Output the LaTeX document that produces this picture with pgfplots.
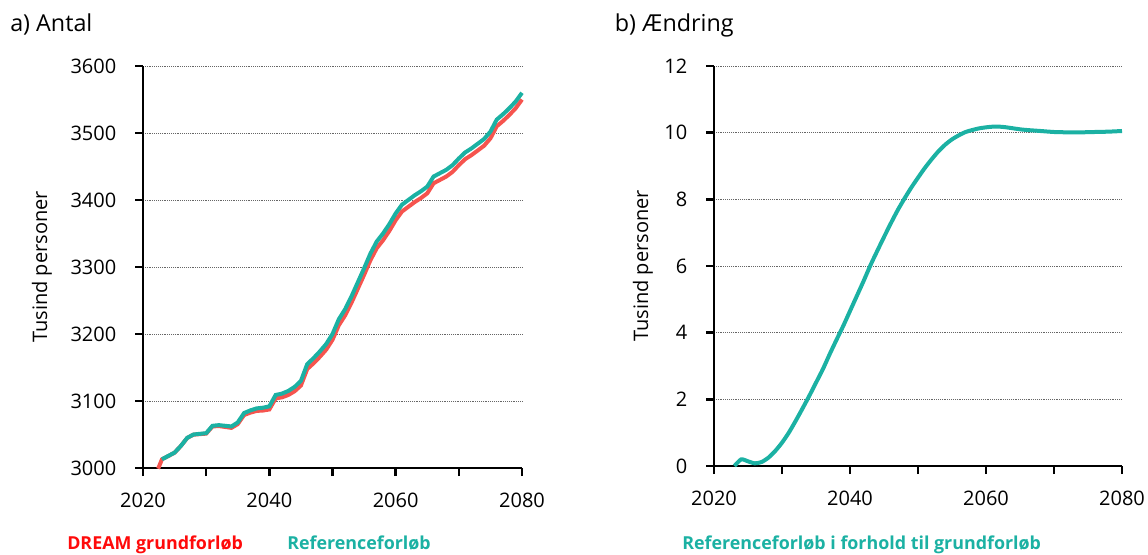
\documentclass[border=0pt]{standalone}
\usepackage{pgfplots}
\pgfplotsset{compat=1.18}
\usepackage{fontspec}
\setmainfont{Open Sans}
\definecolor{teal1}{RGB}{27,177,163}
\definecolor{red1}{RGB}{246,84,78}
\definecolor{redtxt}{RGB}{255,10,10}
\pgfplotsset{
  mystyle/.style={
    scale only axis,
    axis x line=bottom, axis y line=left,
    axis line style={-, line width=1.8pt, black},
    tick style={line width=1.8pt, black},
    tick align=outside, major tick length=6pt,
    xmin=2020, xmax=2080,
    xtick={2020,2030,...,2080},
    xticklabels={2020,,2040,,2060,,2080},
    ymajorgrids,
    grid style={densely dotted, line width=0.7pt, gray!80!black},
    /pgf/number format/assume math mode=true,
    ticklabel style={font=\fontsize{15}{18}\selectfont},
    xticklabel style={yshift=-9pt},
    yticklabel style={xshift=-10.5pt},
    label style={font=\fontsize{15}{18}\selectfont},
    clip=false,
  }
}
\begin{document}
\begin{tikzpicture}
\useasboundingbox (0,0) rectangle (861pt,415.5pt);
\begin{axis}[mystyle,
  at={(107.25pt,64.5pt)}, anchor=south west,
  width=284.25pt, height=301.5pt,
  ymin=3000, ymax=3600, ytick={3000,3100,...,3600},
  yticklabel style={/pgf/number format/.cd, fixed, 1000 sep={}},
  ylabel={Tusind personer},
  ylabel style={at={(axis description cs:0,0.5)}, anchor=center, yshift=75.75pt},
]
\addplot[red1, line width=3pt] coordinates {
(2022.4,2999) (2023,3013) (2024,3017.8) (2025,3022.86) (2026,3032.92) (2027,3044.88) (2028,3049.75) (2029,3050.55) (2030,3051.3)
(2031,3062) (2032,3062.65) (2033,3061.28) (2034,3059.9) (2035,3065.5) (2036,3079.1) (2037,3082.65) (2038,3085.22) (2039,3085.8) (2040,3087.35)
(2041,3103.9) (2042,3105.45) (2043,3108.98) (2044,3114.55) (2045,3123.12) (2046,3147.7) (2047,3156.3) (2048,3166) (2049,3176.65) (2050,3191.35)
(2051,3213.05) (2052,3227.8) (2053,3246.55) (2054,3267.35) (2055,3288.2) (2056,3310.08) (2057,3327.98) (2058,3339.92) (2059,3353.87) (2060,3369.84)
(2061,3382.82) (2062,3389.82) (2063,3396.84) (2064,3402.87) (2065,3409.9) (2066,3424.92) (2067,3429.93) (2068,3434.95) (2069,3441.96) (2070,3451.98)
(2071,3460.98) (2072,3466.99) (2073,3473.99) (2074,3480.99) (2075,3491.98) (2076,3509.98) (2077,3517.98) (2078,3526.97) (2079,3536.96) (2080,3549.95)
};
\addplot[teal1, line width=3pt] coordinates {
(2023,3013) (2024,3018) (2025,3023) (2026,3033) (2027,3045) (2028,3050) (2029,3051) (2030,3052)
(2031,3063) (2032,3064) (2033,3063) (2034,3062) (2035,3068) (2036,3082) (2037,3086) (2038,3089) (2039,3090) (2040,3092)
(2041,3109) (2042,3111) (2043,3115) (2044,3121) (2045,3130) (2046,3155) (2047,3164) (2048,3174) (2049,3185) (2050,3200)
(2051,3222) (2052,3237) (2053,3256) (2054,3277) (2055,3298) (2056,3320) (2057,3338) (2058,3350) (2059,3364) (2060,3380)
(2061,3393) (2062,3400) (2063,3407) (2064,3413) (2065,3420) (2066,3435) (2067,3440) (2068,3445) (2069,3452) (2070,3462)
(2071,3471) (2072,3477) (2073,3484) (2074,3491) (2075,3502) (2076,3520) (2077,3528) (2078,3537) (2079,3547) (2080,3560)
};
\end{axis}
\begin{axis}[mystyle,
  at={(535.5pt,66pt)}, anchor=south west,
  width=306pt, height=300pt,
  ymin=0, ymax=12, ytick={0,2,...,12},
  ylabel={Tusind personer},
  ylabel style={at={(axis description cs:0,0.5)}, anchor=center, yshift=53.25pt},
]
\addplot[teal1, line width=3pt, smooth, tension=0.4] coordinates {
(2023,0) (2024,0.2) (2025,0.14) (2026,0.08) (2027,0.12) (2028,0.25) (2029,0.45) (2030,0.7)
(2031,1.0) (2032,1.35) (2033,1.72) (2034,2.1) (2035,2.5) (2036,2.9) (2037,3.35) (2038,3.78) (2039,4.2) (2040,4.65)
(2041,5.1) (2042,5.55) (2043,6.02) (2044,6.45) (2045,6.87) (2046,7.28) (2047,7.67) (2048,8.02) (2049,8.35) (2050,8.65)
(2051,8.94) (2052,9.2) (2053,9.44) (2054,9.64) (2055,9.8) (2056,9.92) (2057,10.02) (2058,10.08) (2059,10.13) (2060,10.16)
(2061,10.18) (2062,10.18) (2063,10.16) (2064,10.13) (2065,10.1) (2066,10.08) (2068,10.05) (2070,10.02) (2072,10.01)
(2074,10.01) (2076,10.02) (2078,10.03) (2080,10.05)
};
\end{axis}
\node[anchor=base west, inner sep=0pt, font=\fontsize{17.5}{20}\selectfont] at (7.5pt,391.5pt) {a) Antal};
\node[anchor=base west, inner sep=0pt, font=\fontsize{17.5}{20}\selectfont] at (461pt,391.5pt) {b) Ændring};
\node[anchor=base west, inner sep=0pt, font=\bfseries\fontsize{13.4}{16}\selectfont, text=redtxt] at (50.25pt,3.5pt) {DREAM grundforløb};
\node[anchor=base west, inner sep=0pt, font=\bfseries\fontsize{13.4}{16}\selectfont, text=teal1] at (215.25pt,3.5pt) {Referenceforløb};
\node[anchor=base west, inner sep=0pt, font=\bfseries\fontsize{13.4}{16}\selectfont, text=teal1] at (511.5pt,3.5pt) {Referenceforløb i forhold til grundforløb};
\end{tikzpicture}
\end{document}
